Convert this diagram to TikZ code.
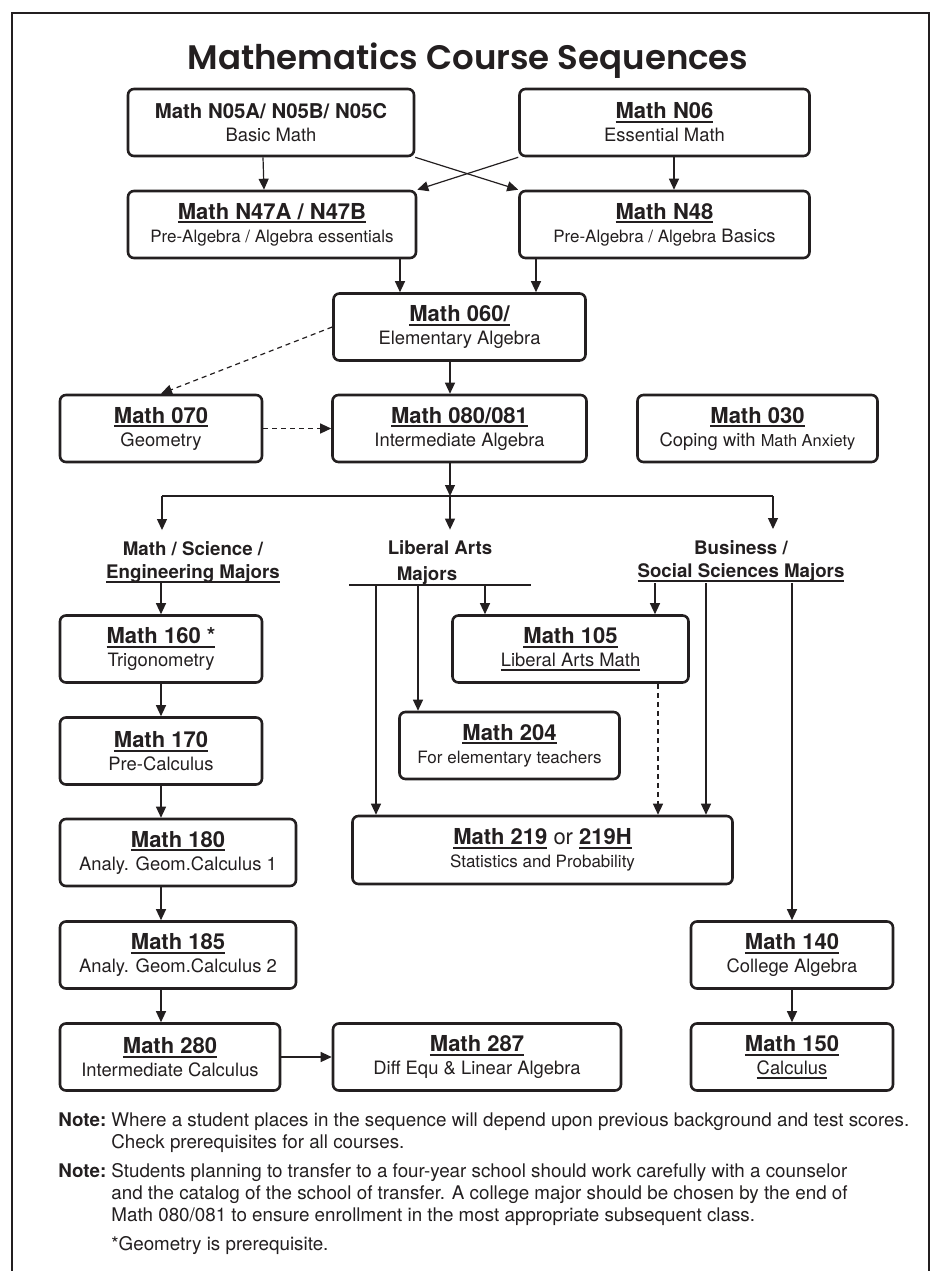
\documentclass[tikz,border=0pt]{standalone}
\usepackage{fontspec}
\setmainfont{TeX Gyre Heros}
\newfontfamily\titlefont{Poppins SemiBold}
\usetikzlibrary{arrows.meta}
\definecolor{ink}{RGB}{35,31,32}
\newsavebox\undlbox
\newcommand\undl[1]{\sbox\undlbox{#1}\rlap{\rule[-2.1pt]{\wd\undlbox}{1pt}}\usebox\undlbox}
\newcommand\ctitle[1]{{\fontsize{11}{11.5}\selectfont\bfseries #1}}
\newcommand\csub[1]{{\fontsize{9.2}{11.5}\selectfont #1}}

\begin{document}
\begin{tikzpicture}[x=0.5pt,y=-0.5pt,
  course/.style={draw=ink,line width=1.3pt,rounded corners=3pt,align=center,
    inner sep=0pt,text=ink,minimum height=33.5pt,font=\fontsize{9.2}{11.5}\selectfont},
  major/.style={align=center,inner sep=0pt,text=ink,
    font=\fontsize{9.35}{11.5}\selectfont\bfseries},
  arr/.style={draw=ink,line width=0.6pt,-{Triangle[length=5.5pt,width=5pt]}},
  darr/.style={arr,dash pattern=on 2.5pt off 2pt},
  note/.style={anchor=north west,inner sep=0pt,text=ink,align=left,
    font=\fontsize{9.4}{11}\selectfont}]
\useasboundingbox (0,0) rectangle (935,1271);
% frame and title
\draw[ink,line width=1pt] (12,1275) -- (12,13) -- (929,13) -- (929,1275);
\node[text=ink,font=\titlefont\fontsize{17}{20}\selectfont] (title) at (468,61) {Mathematics Course Sequences};

% developmental courses
\node[course,minimum width=143pt] (n05) at (271,122.5)
  {{\fontsize{10.2}{11.5}\selectfont\bfseries Math N05A/ N05B/ N05C}\\\csub{Basic Math}};
\node[course,minimum width=145pt] (n06) at (664.5,122.5)
  {\ctitle{\undl{Math N06}}\\\csub{Essential Math}};
\node[course,minimum width=144pt] (n47) at (272,224.5)
  {\ctitle{\undl{Math N47A / N47B}}\\{\fontsize{8.5}{11.5}\selectfont Pre-Algebra / Algebra essentials}};
\node[course,minimum width=145pt] (n48) at (664.5,224.5)
  {\ctitle{\undl{Math N48}}\\{\fontsize{8.5}{11.5}\selectfont Pre-Algebra / Algebra} \csub{Basics}};
\node[course,minimum width=126pt] (n060) at (459.5,327)
  {\ctitle{\undl{Math 060/}}\\\csub{Elementary Algebra}};
\node[course,minimum width=101pt] (n070) at (161,428.5)
  {\ctitle{\undl{Math 070}}\\\csub{Geometry}};
\node[course,minimum width=127pt] (n080) at (459.5,428.5)
  {\ctitle{\undl{Math 080/081}}\\\csub{Intermediate Algebra}};
\node[course,minimum width=120pt] (n030) at (757.5,428.5)
  {\ctitle{\undl{Math 030}}\\\csub{Coping with} {\fontsize{8.2}{11.5}\selectfont Math Anxiety}};

\draw[arr] ([xshift=-4pt]n05.south) -- ([xshift=-4pt]n47.north);
\draw[arr] ([xshift=4.75pt]n06.south) -- ([xshift=4.75pt]n48.north);
\draw[arr] (n05.south east) -- (n48.north west);
\draw[arr] (n06.south west) -- (n47.north east);
\draw[arr] (400,0 |- n47.south) -- (400,0 |- n060.north);
\draw[arr] (536,0 |- n48.south) -- (536,0 |- n060.north);
\draw[darr] (n060.west) -- (n070.north);
\draw[arr] (450,0 |- n060.south) -- (450,0 |- n080.north);
\draw[darr] (n070.east) -- (n080.west);

% majors
\coordinate (split) at (450,496);
\node[major] (mse) at (193,562) {Math / Science /\\\undl{Engineering Majors}};
\node[major] (lam) at (440,563) {Liberal Arts\\[1.5pt]\hspace*{-13pt}Majors};
\node[major] (bss) at (741,561) {Business /\\\undl{Social Sciences Majors}};
\coordinate (msline) at (193,583);
\coordinate (labarW) at (349,585);
\coordinate (labarE) at (531,585);
\coordinate (ssline) at (741,583);
\draw[arr] (450,0 |- n080.south) -- (split);
\draw[ink,line width=0.6pt] (162,0 |- split) -- (773,0 |- split);
\draw[arr,shorten >=5.5pt] (162,0 |- split) -- (162,0 |- mse.north);
\draw[arr,shorten >=5.5pt] (split) -- (450,0 |- lam.north);
\draw[arr,shorten >=5.5pt] (773,0 |- split) -- (773,0 |- bss.north);
\draw[ink,line width=1.3pt] (labarW) -- (labarE);

% upper level courses
\node[course,minimum width=101pt] (n160) at (161,649)
  {\ctitle{\undl{Math 160 *}}\\\csub{Trigonometry}};
\node[course,minimum width=118pt] (n105) at (570.5,649)
  {\ctitle{\undl{Math 105}}\\\csub{\undl{Liberal Arts Math}}};
\node[course,minimum width=101pt] (n170) at (161,751)
  {\ctitle{\undl{Math 170}}\\\csub{Pre-Calculus}};
\node[course,minimum width=110pt] (n204) at (509.5,745.5)
  {\ctitle{\undl{Math 204}}\\{\fontsize{8.5}{11.5}\selectfont For elementary teachers}};
\node[course,minimum width=118pt] (n180) at (178,852.5)
  {\ctitle{\undl{Math 180}}\\\csub{Analy. Geom.Calculus 1}};
\node[course,minimum width=190pt,minimum height=34pt] (n219) at (542.5,850)
  {\ctitle{\undl{Math 219} {\mdseries or} \undl{219H}}\\{\fontsize{8.5}{11.5}\selectfont Statistics and Probability}};
\node[course,minimum width=118pt] (n185) at (178,955)
  {\ctitle{\undl{Math 185}}\\\csub{Analy. Geom.Calculus 2}};
\node[course,minimum width=101pt] (n140) at (792,955)
  {\ctitle{\undl{Math 140}}\\\csub{College Algebra}};
\node[course,minimum width=110pt] (n280) at (170,1057)
  {\ctitle{\undl{Math 280}}\\\csub{Intermediate Calculus}};
\node[course,minimum width=144pt] (n287) at (477,1057)
  {\ctitle{\undl{Math 287}}\\\csub{Diff Equ \& Linear Algebra}};
\node[course,minimum width=101pt] (n150) at (792,1057)
  {\ctitle{\undl{Math 150}}\\\csub{\undl{Calculus}}};

\draw[arr] (161,0 |- msline) -- (n160.north);
\draw[arr] (n160.south) -- (n170.north);
\draw[arr] (n170.south) -- (161,0 |- n180.north);
\draw[arr] (161,0 |- n180.south) -- (161,0 |- n185.north);
\draw[arr] (161,0 |- n185.south) -- (161,0 |- n280.north);
\draw[arr] (n280.east) -- (n287.west);
\draw[arr] (376,0 |- labarW) -- (376,0 |- n219.north);
\draw[arr] (418,0 |- labarW) -- (418,0 |- n204.north);
\draw[arr] (485,0 |- labarW) -- (485,0 |- n105.north);
\draw[arr] (655,0 |- ssline) -- (655,0 |- n105.north);
\draw[arr] (706,0 |- ssline) -- (706,0 |- n219.north);
\draw[darr] (658,0 |- n105.south) -- (658,0 |- n219.north);
\draw[arr] (792,0 |- ssline) -- (n140.north);
\draw[arr] (n140.south) -- (n150.north);

% notes
\node[note,font=\fontsize{9.4}{11}\selectfont\bfseries] (note1lbl) at (58,1112) {Note:};
\node[note] (note1) at (111,1112) {Where a student places in the sequence will depend upon previous background and test scores.\\Check prerequisites for all courses.};
\node[note,font=\fontsize{9.4}{11}\selectfont\bfseries] (note2lbl) at (58,1163) {Note:};
\node[note] (note2) at (111,1163) {Students planning to transfer to a four-year school should work carefully with a counselor\\and the catalog of the school of transfer. A college major should be chosen by the end of\\Math 080/081 to ensure enrollment in the most appropriate subsequent class.};
\node[note] (star) at (111,1236) {*Geometry is prerequisite.};
\end{tikzpicture}
\end{document}
